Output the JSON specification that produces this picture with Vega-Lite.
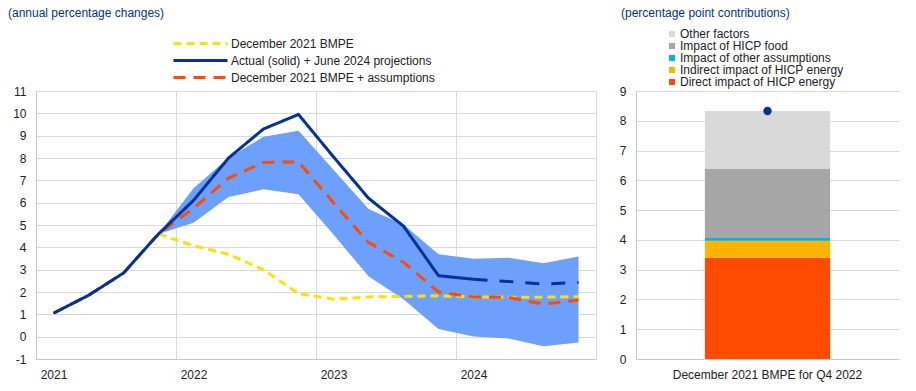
{
  "$schema": "https://vega.github.io/schema/vega-lite/v6.json",
  "padding": {"left": 8, "top": 7, "right": 5, "bottom": 5},
  "spacing": 23,
  "resolve": {"scale": {"color": "independent", "strokeDash": "independent"}, "legend": {"color": "independent", "strokeDash": "independent"}},
  "config": {
    "font": "Liberation Sans",
    "view": {"stroke": null},
    "axis": {"labelFont": "Liberation Sans", "labelFontSize": 12, "labelColor": "#222222", "gridColor": "#d9d9d9", "gridWidth": 1, "domainColor": "#c8c8c8", "ticks": false, "title": null, "labelOverlap": false, "labelLimit": 400},
    "legend": {"labelFont": "Liberation Sans", "labelFontSize": 12, "labelColor": "#222222", "padding": 0, "labelLimit": 400},
    "title": {"font": "Liberation Sans", "fontSize": 12, "fontWeight": "normal", "color": "#003299", "anchor": "start", "frame": "group"}
  },
  "datasets": {
    "lines": [
      {"series": "December 2021 BMPE", "t": 3.5, "v": 4.6},
      {"series": "December 2021 BMPE", "t": 4.5, "v": 4.07},
      {"series": "December 2021 BMPE", "t": 5.5, "v": 3.69},
      {"series": "December 2021 BMPE", "t": 6.5, "v": 2.99},
      {"series": "December 2021 BMPE", "t": 7.5, "v": 1.93},
      {"series": "December 2021 BMPE", "t": 8.5, "v": 1.68},
      {"series": "December 2021 BMPE", "t": 9.5, "v": 1.78},
      {"series": "December 2021 BMPE", "t": 10.5, "v": 1.8},
      {"series": "December 2021 BMPE", "t": 11.5, "v": 1.83},
      {"series": "December 2021 BMPE", "t": 12.5, "v": 1.78},
      {"series": "December 2021 BMPE", "t": 13.5, "v": 1.77},
      {"series": "December 2021 BMPE", "t": 14.5, "v": 1.77},
      {"series": "December 2021 BMPE", "t": 15.5, "v": 1.79},
      {"series": "December 2021 BMPE + assumptions", "t": 0.5, "v": 1.05},
      {"series": "December 2021 BMPE + assumptions", "t": 1.5, "v": 1.85},
      {"series": "December 2021 BMPE + assumptions", "t": 2.5, "v": 2.85},
      {"series": "December 2021 BMPE + assumptions", "t": 3.5, "v": 4.6},
      {"series": "December 2021 BMPE + assumptions", "t": 4.5, "v": 5.75},
      {"series": "December 2021 BMPE + assumptions", "t": 5.5, "v": 7.1},
      {"series": "December 2021 BMPE + assumptions", "t": 6.5, "v": 7.8},
      {"series": "December 2021 BMPE + assumptions", "t": 7.5, "v": 7.83},
      {"series": "December 2021 BMPE + assumptions", "t": 8.5, "v": 6.0},
      {"series": "December 2021 BMPE + assumptions", "t": 9.5, "v": 4.22},
      {"series": "December 2021 BMPE + assumptions", "t": 10.5, "v": 3.33},
      {"series": "December 2021 BMPE + assumptions", "t": 11.5, "v": 2.0},
      {"series": "December 2021 BMPE + assumptions", "t": 12.5, "v": 1.78},
      {"series": "December 2021 BMPE + assumptions", "t": 13.5, "v": 1.76},
      {"series": "December 2021 BMPE + assumptions", "t": 14.5, "v": 1.46},
      {"series": "December 2021 BMPE + assumptions", "t": 15.5, "v": 1.64},
      {"series": "Actual (solid) + June 2024 projections", "t": 0.5, "v": 1.05},
      {"series": "Actual (solid) + June 2024 projections", "t": 1.5, "v": 1.85},
      {"series": "Actual (solid) + June 2024 projections", "t": 2.5, "v": 2.85},
      {"series": "Actual (solid) + June 2024 projections", "t": 3.5, "v": 4.6},
      {"series": "Actual (solid) + June 2024 projections", "t": 4.5, "v": 6.1},
      {"series": "Actual (solid) + June 2024 projections", "t": 5.5, "v": 8.0},
      {"series": "Actual (solid) + June 2024 projections", "t": 6.5, "v": 9.3},
      {"series": "Actual (solid) + June 2024 projections", "t": 7.5, "v": 9.95},
      {"series": "Actual (solid) + June 2024 projections", "t": 8.5, "v": 8.05},
      {"series": "Actual (solid) + June 2024 projections", "t": 9.5, "v": 6.2},
      {"series": "Actual (solid) + June 2024 projections", "t": 10.5, "v": 4.95},
      {"series": "Actual (solid) + June 2024 projections", "t": 11.5, "v": 2.73},
      {"series": "Actual (solid) + June 2024 projections", "t": 12.5, "v": 2.57}
    ],
    "projection": [
      {"t": 12.5, "v": 2.57},
      {"t": 13.5, "v": 2.47},
      {"t": 14.5, "v": 2.35},
      {"t": 15.5, "v": 2.43}
    ],
    "band": [
      {"t": 3.5, "lo": 4.6, "hi": 4.6},
      {"t": 4.5, "lo": 5.1, "hi": 6.65},
      {"t": 5.5, "lo": 6.25, "hi": 8.0},
      {"t": 6.5, "lo": 6.6, "hi": 8.95},
      {"t": 7.5, "lo": 6.38, "hi": 9.22},
      {"t": 8.5, "lo": 4.57, "hi": 7.47},
      {"t": 9.5, "lo": 2.7, "hi": 5.72},
      {"t": 10.5, "lo": 1.68, "hi": 5.02},
      {"t": 11.5, "lo": 0.34, "hi": 3.69},
      {"t": 12.5, "lo": 0.01, "hi": 3.49},
      {"t": 13.5, "lo": -0.08, "hi": 3.53},
      {"t": 14.5, "lo": -0.43, "hi": 3.29},
      {"t": 15.5, "lo": -0.26, "hi": 3.59}
    ],
    "contrib": [
      {"cat": "December 2021 BMPE for Q4 2022", "comp": "Direct impact of HICP energy", "rank": 1, "v": 3.4},
      {"cat": "December 2021 BMPE for Q4 2022", "comp": "Indirect impact of HICP energy", "rank": 2, "v": 0.57},
      {"cat": "December 2021 BMPE for Q4 2022", "comp": "Impact of other assumptions", "rank": 3, "v": 0.09},
      {"cat": "December 2021 BMPE for Q4 2022", "comp": "Impact of HICP food", "rank": 4, "v": 2.32},
      {"cat": "December 2021 BMPE for Q4 2022", "comp": "Other factors", "rank": 5, "v": 1.95}
    ],
    "total": [
      {"cat": "December 2021 BMPE for Q4 2022", "v": 8.33}
    ]
  },
  "hconcat": [
    {
      "width": 560,
      "height": 268,
      "title": {"text": "(annual percentage changes)", "dx": -28, "offset": 16},
      "layer": [
        {
          "data": {"name": "band"},
          "mark": {"type": "area", "color": "#6ca0fc", "opacity": 1},
          "encoding": {
            "x": {"field": "t", "type": "quantitative", "scale": {"domain": [0, 16], "nice": false, "zero": false},
              "axis": {"values": [0, 0.5, 4, 4.5, 8, 8.5, 12, 12.5, 16], "tickCount": 20, "labelExpr": "datum.value % 4 === 0.5 ? toString(2021 + floor(datum.value / 4)) : ''", "grid": true, "gridOpacity": {"condition": {"test": "datum.value % 4 === 0", "value": 1}, "value": 0}, "labelPadding": 10, "labelFlush": false}},
            "y": {"field": "lo", "type": "quantitative", "scale": {"domain": [-1, 11], "nice": false, "zero": false},
              "axis": {"values": [-1, 0, 1, 2, 3, 4, 5, 6, 7, 8, 9, 10, 11], "tickCount": 20, "labelExpr": "toString(datum.value)", "grid": true, "labelPadding": 10}},
            "y2": {"field": "hi"}
          }
        },
        {
          "data": {"name": "lines"},
          "transform": [{"filter": "datum.series === 'December 2021 BMPE'"}],
          "mark": {"type": "line", "strokeWidth": 3},
          "encoding": {
            "x": {"field": "t", "type": "quantitative"},
            "y": {"field": "v", "type": "quantitative"},
            "color": {"field": "series", "type": "nominal",
              "scale": {"domain": ["December 2021 BMPE", "Actual (solid) + June 2024 projections", "December 2021 BMPE + assumptions"], "range": ["#ffe000", "#003299", "#ff4b00"]},
              "legend": {"title": null, "orient": "none", "legendX": 157, "legendY": -55, "symbolType": "M-4.5,0H4.5", "symbolSize": 144, "symbolStrokeWidth": 3, "labelOffset": 23, "rowPadding": 3}},
            "strokeDash": {"field": "series", "type": "nominal",
              "scale": {"domain": ["December 2021 BMPE", "Actual (solid) + June 2024 projections", "December 2021 BMPE + assumptions"], "range": [[8, 5], [1, 0], [12, 8]]},
              "legend": {"title": null, "orient": "none", "legendX": 157, "legendY": -55, "symbolType": "M-4.5,0H4.5", "symbolSize": 144, "symbolStrokeWidth": 3, "labelOffset": 23, "rowPadding": 3}}
          }
        },
        {
          "data": {"name": "lines"},
          "transform": [{"filter": "datum.series === 'December 2021 BMPE + assumptions'"}],
          "mark": {"type": "line", "strokeWidth": 3},
          "encoding": {
            "x": {"field": "t", "type": "quantitative"},
            "y": {"field": "v", "type": "quantitative"},
            "color": {"field": "series", "type": "nominal"},
            "strokeDash": {"field": "series", "type": "nominal"}
          }
        },
        {
          "data": {"name": "lines"},
          "transform": [{"filter": "datum.series === 'Actual (solid) + June 2024 projections'"}],
          "mark": {"type": "line", "strokeWidth": 3},
          "encoding": {
            "x": {"field": "t", "type": "quantitative"},
            "y": {"field": "v", "type": "quantitative"},
            "color": {"field": "series", "type": "nominal"},
            "strokeDash": {"field": "series", "type": "nominal"}
          }
        },
        {
          "data": {"name": "projection"},
          "mark": {"type": "line", "strokeWidth": 3, "color": "#003299", "strokeDash": [14, 12]},
          "encoding": {
            "x": {"field": "t", "type": "quantitative"},
            "y": {"field": "v", "type": "quantitative"}
          }
        }
      ]
    },
    {
      "width": 263,
      "height": 268,
      "title": {"text": "(percentage point contributions)", "dx": -15, "offset": 8},
      "layer": [
        {
          "data": {"name": "contrib"},
          "mark": {"type": "bar"},
          "encoding": {
            "x": {"field": "cat", "type": "nominal", "scale": {"paddingInner": 0, "paddingOuter": 0.55},
              "axis": {"labelAngle": 0, "labelPadding": 10, "grid": false}},
            "y": {"field": "v", "type": "quantitative", "stack": "zero", "scale": {"domain": [0, 9], "nice": false},
              "axis": {"values": [0, 1, 2, 3, 4, 5, 6, 7, 8, 9], "tickCount": 20, "labelExpr": "toString(datum.value)", "grid": true, "labelPadding": 10}},
            "color": {"field": "comp", "type": "nominal",
              "scale": {"domain": ["Other factors", "Impact of HICP food", "Impact of other assumptions", "Indirect impact of HICP energy", "Direct impact of HICP energy"], "range": ["#d9d9d9", "#a6a6a6", "#00b1ea", "#ffb400", "#ff4b00"]},
              "legend": {"title": null, "orient": "none", "legendX": 30, "legendY": -63, "symbolType": "square", "symbolSize": 36, "symbolStrokeWidth": 0, "labelOffset": 2, "rowPadding": 0}},
            "order": {"field": "rank", "type": "quantitative", "sort": "ascending"}
          }
        },
        {
          "data": {"name": "total"},
          "mark": {"type": "point", "filled": true, "shape": "circle", "size": 70, "color": "#003299", "opacity": 1},
          "encoding": {
            "x": {"field": "cat", "type": "nominal"},
            "y": {"field": "v", "type": "quantitative"}
          }
        }
      ]
    }
  ]
}
